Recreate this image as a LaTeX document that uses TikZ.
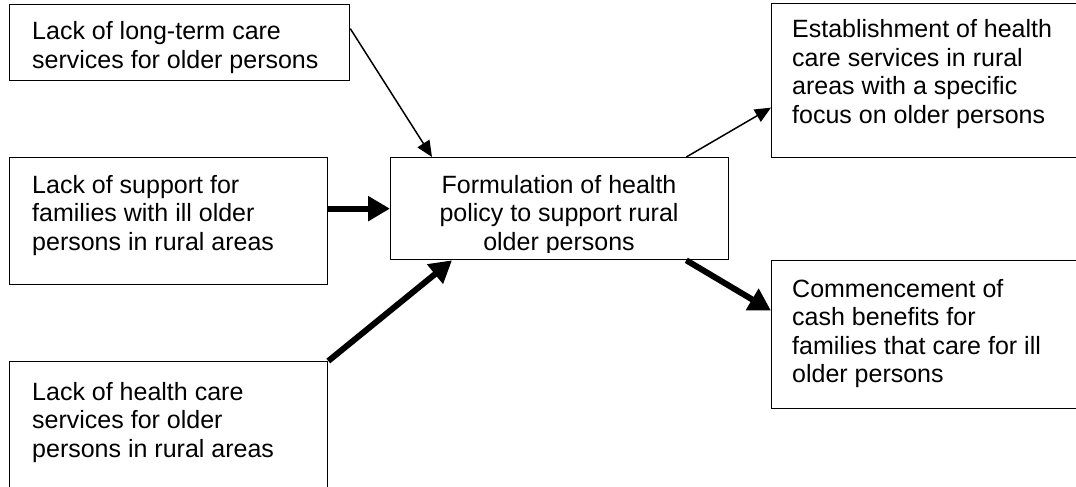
\documentclass[tikz,border=0pt]{standalone}
\usepackage{fontspec}
\setmainfont{Liberation Sans}
\usetikzlibrary{arrows.meta}
\begin{document}
\begin{tikzpicture}[x=1pt,y=-1pt,
  box/.style={draw=black, line width=1.3pt, rectangle, inner sep=0pt, anchor=north west},
  txt/.style={inner sep=0pt, font=\fontsize{25pt}{28.5pt}\selectfont},
  thinarrow/.style={line width=1.5pt, -{Triangle[length=16pt,width=14pt]}},
  thickarrow/.style={line width=6pt, -{Triangle[length=22pt,width=24pt]}}]
\clip (0,0) rectangle (1076,487);
\fill[white] (0,0) rectangle (1076,487);
% boxes
\node[box, minimum width=340pt, minimum height=76pt] (b1) at (9,4) {};
\node[box, minimum width=318pt, minimum height=127pt] (b2) at (9,157) {};
\node[box, minimum width=318pt, minimum height=150pt] (b3) at (9,361) {};
\node[box, minimum width=338pt, minimum height=102pt] (c) at (390,157) {};
\node[box, minimum width=330pt, minimum height=154pt] (r1) at (771,3) {};
\node[box, minimum width=330pt, minimum height=148pt] (r2) at (771,260) {};
% texts (anchor base = baseline of last line)
\begin{scope}
\clip (b1.north west) rectangle ([yshift=3pt]b1.south east);
\node[txt, anchor=base west, align=left] (t1) at (32,68.5) {Lack of long-term care\\services for older persons};
\end{scope}
\node[txt, anchor=base west, align=left] (t2) at (32,250) {Lack of support for\\families with ill older\\persons in rural areas};
\node[txt, anchor=base west, align=left] (t3) at (32,457) {Lack of health care\\services for older\\persons in rural areas};
\begin{scope}
\clip (c.north west) rectangle ([yshift=8pt]c.south east);
\node[txt, anchor=base, align=center] (tc) at (559,250) {Formulation of health\\policy to support rural\\older persons};
\end{scope}
\node[txt, anchor=base west, align=left] (tr1) at (792,123.5) {Establishment of health\\care services in rural\\areas with a specific\\focus on older persons};
\node[txt, anchor=base west, align=left] (tr2) at (792,382.5) {Commencement of\\cash benefits for\\families that care for ill\\older persons};
% connectors
\draw[thinarrow] ([yshift=14pt]b1.east) -- ([xshift=42pt]c.north west);
\draw[thickarrow] (b2.east |- c.west) -- (c.west);
\draw[thickarrow] (b3.north east) -- ([xshift=62pt]c.south west);
\draw[thinarrow] ([xshift=-43pt]c.north east) -- ([yshift=-27pt]r1.west);
\draw[thickarrow] ([xshift=-43pt]c.south east) -- ([yshift=24pt]r2.west);
\end{tikzpicture}
\end{document}
